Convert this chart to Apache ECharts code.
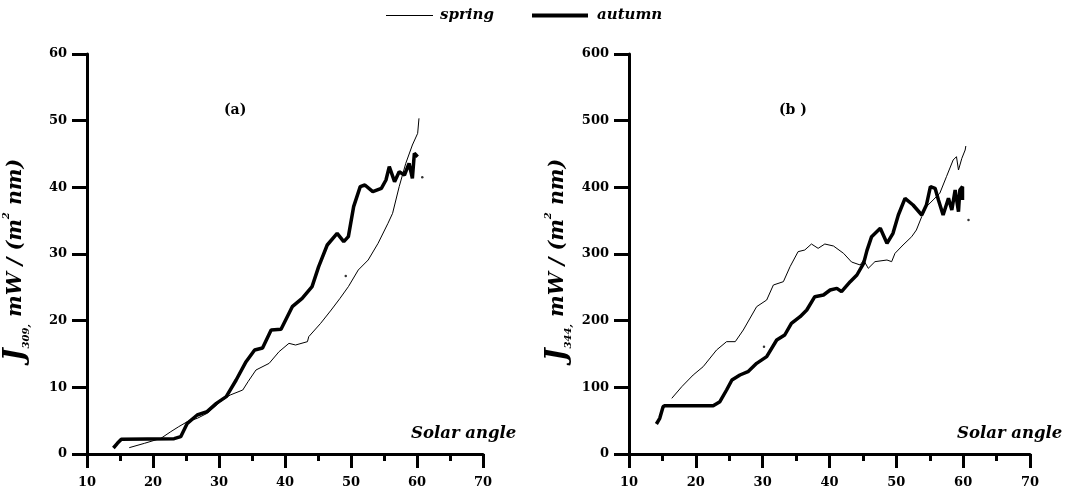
<!DOCTYPE html>
<html>
<head>
<meta charset="utf-8">
<script src="https://cdn.jsdelivr.net/npm/echarts@6/dist/echarts.min.js"></script>
<style>
  html, body { margin: 0; padding: 0; background: #fff; }
  #chart { width: 1068px; height: 496px; }
</style>
</head>
<body>
<div id="chart"></div>
<script>
// Panel (a): J309 irradiance vs solar angle
const springAX = [16.4, 18.7, 21.2, 22.7, 23.9, 25.2, 26.7, 28.2, 30.2, 31.7, 33.6, 34.4, 35.6, 37.6, 39.1, 40.6, 41.6, 43.4, 43.6, 45.4, 47.0, 48.3, 49.6, 51.1, 52.6, 54.1, 55.6, 56.3, 57.3, 58.3, 59.3, 60.1, 60.3];
const springAY = [0.95, 1.6, 2.35, 3.35, 4.1, 4.85, 5.35, 6.1, 7.85, 8.85, 9.6, 10.85, 12.6, 13.6, 15.35, 16.6, 16.35, 16.85, 17.6, 19.6, 21.6, 23.3, 25.1, 27.6, 29.1, 31.6, 34.6, 36.1, 40.1, 43.6, 46.35, 48.1, 50.35];
const autumnAX = [14.0, 14.2, 14.6, 15.2, 15.5, 23.2, 24.2, 25.2, 26.7, 28.2, 29.6, 31.1, 32.6, 34.1, 35.4, 36.6, 37.9, 39.4, 41.1, 42.6, 44.1, 45.1, 46.4, 47.9, 48.9, 49.6, 50.4, 51.4, 52.1, 53.3, 54.6, 55.3, 55.8, 56.6, 57.3, 58.1, 58.8, 59.3, 59.6, 60.1];
const autumnAY = [0.9, 1.1, 1.6, 2.2, 2.3, 2.3, 2.6, 4.6, 5.85, 6.35, 7.6, 8.6, 11.1, 13.85, 15.6, 15.9, 18.6, 18.7, 22.1, 23.35, 25.1, 28.1, 31.35, 33.1, 31.85, 32.6, 37.1, 40.1, 40.35, 39.35, 39.85, 41.1, 43.1, 40.85, 42.35, 41.85, 43.6, 41.35, 45.1, 44.6];
const strayAX = [60.8, 49.2];
const strayAY = [41.5, 26.7];

// Panel (b): J344 irradiance vs solar angle
const springBX = [16.4, 17.9, 19.6, 21.1, 23.1, 24.6, 25.9, 27.1, 29.1, 30.6, 31.6, 33.1, 34.1, 35.3, 36.3, 37.3, 38.3, 39.3, 40.6, 42.1, 43.3, 44.6, 45.1, 45.8, 46.8, 48.6, 49.3, 49.8, 51.0, 52.3, 53.0, 53.8, 54.5, 55.5, 56.5, 57.5, 58.5, 59.0, 59.3, 59.8, 60.3, 60.4];
const springBY = [83.5, 101, 118.5, 131, 156, 168.5, 168.5, 186, 221, 231, 253.5, 258.5, 281, 303.5, 306, 315, 308.5, 315, 312, 301, 288, 283.5, 291, 278.5, 288.5, 291, 288.5, 301, 313.5, 326, 336, 356, 371, 381, 391, 416, 441, 446, 426, 443.5, 456, 462];
const autumnBX = [14.1, 14.6, 15.1, 15.4, 22.6, 23.6, 24.6, 25.4, 26.6, 27.8, 29.1, 30.6, 32.1, 33.3, 34.3, 35.6, 36.6, 37.8, 39.1, 40.1, 41.1, 41.8, 43.1, 44.1, 45.1, 45.6, 46.3, 47.6, 48.6, 49.5, 50.3, 51.3, 52.5, 53.8, 54.5, 55.1, 55.8, 56.3, 57.0, 57.8, 58.3, 58.8, 59.3, 59.5, 59.9, 59.9];
const autumnBY = [45, 53.5, 71, 72.5, 72.5, 78.5, 96, 111, 118.5, 123.5, 136, 146, 171, 178.5, 196, 206, 216, 236, 238.5, 246, 248.5, 243.5, 258.5, 268.5, 286, 305, 326, 338.5, 316, 331, 358.5, 383.5, 373.5, 358.5, 373.5, 401, 398.5, 381, 358.5, 383.5, 366, 396, 363.5, 396, 401, 381];
const strayBX = [60.8, 30.2];
const strayBY = [351, 161];

const xTicks = { min: 10, max: 70, interval: 10 };
const yTicksA = { min: 0, max: 60, interval: 10 };
const yTicksB = { min: 0, max: 600, interval: 100 };

const zip = (xs, ys) => xs.map((x, i) => [x, ys[i]]);

const SERIF = 'DejaVu Serif';
const BLACK = '#000';

function xAxisCfg(gridIndex) {
  return {
    type: 'value', gridIndex,
    min: xTicks.min, max: xTicks.max, interval: xTicks.interval,
    axisLine: { show: true, lineStyle: { color: BLACK, width: 3 } },
    axisTick: { show: true, length: 14, lineStyle: { color: BLACK, width: 3 } },
    minorTick: { show: true, splitNumber: 2, length: 7, lineStyle: { color: BLACK, width: 3 } },
    splitLine: { show: false },
    axisLabel: { color: BLACK, fontFamily: SERIF, fontWeight: 'bold', fontSize: 13, margin: 22 }
  };
}

function yAxisCfg(gridIndex, ticks, sub) {
  const base = { fontFamily: SERIF, fontStyle: 'italic', fontWeight: 'bold', color: BLACK, lineHeight: 30 };
  return {
    type: 'value', gridIndex,
    min: ticks.min, max: ticks.max, interval: ticks.interval,
    axisLine: { show: true, lineStyle: { color: BLACK, width: 3 } },
    axisTick: { show: true, length: 15, lineStyle: { color: BLACK, width: 3 } },
    splitLine: { show: false },
    axisLabel: { color: BLACK, fontFamily: SERIF, fontWeight: 'bold', fontSize: 13, margin: 20 },
    name: '{J|J}{s|' + sub + ',}{t| mW / (m}{p|2}{t| nm)}',
    nameLocation: 'middle',
    nameRotate: 90,
    nameGap: 56,
    nameTextStyle: {
      padding: [0, 12, 0, 0],
      rich: {
        J: Object.assign({ fontSize: 27 }, base),
        s: Object.assign({ fontSize: 10, verticalAlign: 'bottom' }, base),
        t: Object.assign({ fontSize: 20.5 }, base),
        p: Object.assign({ fontSize: 10, verticalAlign: 'top' }, base)
      }
    }
  };
}

function lineSeries(name, idx, pts, width) {
  return {
    name, type: 'line', xAxisIndex: idx, yAxisIndex: idx,
    data: pts, symbol: 'none', showSymbol: false, smooth: false, animation: false,
    lineStyle: { color: BLACK, width },
    itemStyle: { color: BLACK }
  };
}

function strayDots(idx, pts) {
  return {
    type: 'scatter', xAxisIndex: idx, yAxisIndex: idx,
    data: pts, symbolSize: 2.5, animation: false,
    itemStyle: { color: BLACK }, silent: true
  };
}

const chart = echarts.init(document.getElementById('chart'), null, { renderer: 'canvas' });

const italicLabel = { fontFamily: SERIF, fontStyle: 'italic', fontWeight: 'bold', fontSize: 16.5, fill: BLACK };
const panelLabel = { fontFamily: SERIF, fontWeight: 'bold', fontSize: 14, fill: BLACK };
const legendText = { fontFamily: SERIF, fontStyle: 'italic', fontWeight: 'bold', fontSize: 15, color: BLACK, padding: [0, 0, 0, 2] };

chart.setOption({
  backgroundColor: '#fff',
  animation: false,
  legend: [
    {
      data: [{ name: 'spring', icon: 'rect' }],
      left: 381, top: 3,
      itemWidth: 47, itemHeight: 1.2,
      textStyle: legendText,
      selectedMode: false
    },
    {
      data: [{ name: 'autumn', icon: 'rect' }],
      left: 527, top: 3,
      itemWidth: 56, itemHeight: 4,
      textStyle: Object.assign({}, legendText, { padding: [0, 0, 0, 4] }),
      selectedMode: false
    }
  ],
  grid: [
    { left: 82, top: 54, width: 401, height: 400 },
    { left: 629, top: 54, width: 401, height: 400 }
  ],
  xAxis: [xAxisCfg(0), xAxisCfg(1)],
  yAxis: [yAxisCfg(0, yTicksA, '309'), yAxisCfg(1, yTicksB, '344')],
  series: [
    lineSeries('spring', 0, zip(springAX, springAY), 1),
    lineSeries('autumn', 0, zip(autumnAX, autumnAY), 3.5),
    strayDots(0, zip(strayAX, strayAY)),
    lineSeries('spring', 1, zip(springBX, springBY), 1),
    lineSeries('autumn', 1, zip(autumnBX, autumnBY), 3.5),
    strayDots(1, zip(strayBX, strayBY))
  ],
  graphic: [
    { type: 'text', left: 224, top: 103, style: Object.assign({ text: '(a)' }, panelLabel) },
    { type: 'text', left: 779, top: 103, style: Object.assign({ text: '(b )' }, panelLabel) },
    { type: 'text', left: 411, top: 425, style: Object.assign({ text: 'Solar angle' }, italicLabel) },
    { type: 'text', left: 957, top: 425, style: Object.assign({ text: 'Solar angle' }, italicLabel) }
  ]
});
</script>
</body>
</html>
